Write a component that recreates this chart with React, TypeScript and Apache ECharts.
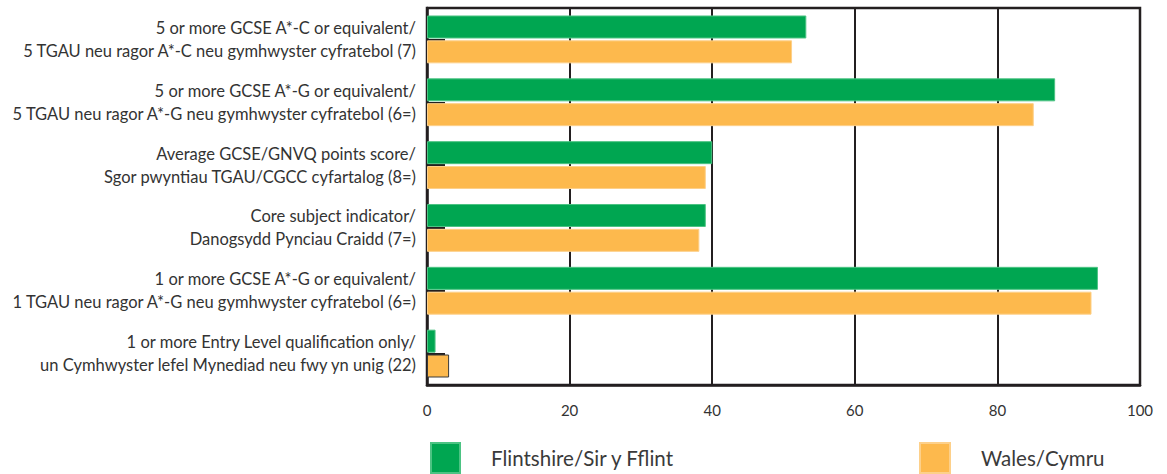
import React, { useEffect, useRef } from "react";
import * as echarts from "echarts";

const categories = [
  "5 or more GCSE A*-C or equivalent/\n5 TGAU neu ragor A*-C neu gymhwyster cyfratebol (7)",
  "5 or more GCSE A*-G or equivalent/\n5 TGAU neu ragor A*-G neu gymhwyster cyfratebol (6=)",
  "Average GCSE/GNVQ points score/\nSgor pwyntiau TGAU/CGCC cyfartalog (8=)",
  "Core subject indicator/\nDanogsydd Pynciau Craidd (7=)",
  "1 or more GCSE A*-G or equivalent/\n1 TGAU neu ragor A*-G neu gymhwyster cyfratebol (6=)",
  "1 or more Entry Level qualification only/\nun Cymhwyster lefel Mynediad neu fwy yn unig (22)",
];
const flintshire = [53.2, 88.1, 40.0, 39.1, 94.1, 1.2];
const wales = [51.2, 85.1, 39.1, 38.2, 93.2, 3.1];
const seriesNames = ["Flintshire/Sir y Fflint", "Wales/Cymru"];
const xTicks = { min: 0, max: 100, interval: 20 };

const GREEN = "#00a651";
const ORANGE = "#fdb94d";
const INK = "#231f20";
const FONT = "Lato, 'Open Sans', sans-serif";

export default function App() {
  const ref = useRef<HTMLDivElement>(null);
  useEffect(() => {
    if (!ref.current) return;
    const chart = echarts.init(ref.current, null, { renderer: "svg" });
    const walesData = wales.map((v, i) =>
      i === wales.length - 1
        ? { value: v, itemStyle: { borderColor: "#3a3a3a", borderWidth: 1 } }
        : v
    );
    const legendText = {
      fontSize: 20.5,
      color: "#3a3a3a",
      padding: [0, 0, 0, 26],
      fontFamily: FONT,
    };
    chart.setOption({
      animation: false,
      backgroundColor: "#ffffff",
      textStyle: { fontFamily: FONT },
      grid: {
        left: 427,
        right: 27,
        top: 8,
        bottom: 89,
        show: true,
        borderColor: INK,
        borderWidth: 2.5,
        backgroundColor: "transparent",
      },
      legend: [
        {
          data: [seriesNames[0]],
          left: 430,
          top: 442,
          padding: 0,
          itemWidth: 29,
          itemHeight: 30,
          icon: "rect",
          textStyle: legendText,
        },
        {
          data: [seriesNames[1]],
          left: 919,
          top: 442,
          padding: 0,
          itemWidth: 30,
          itemHeight: 30,
          icon: "rect",
          textStyle: legendText,
        },
      ],
      xAxis: {
        type: "value",
        min: xTicks.min,
        max: xTicks.max,
        interval: xTicks.interval,
        axisLine: { show: true, lineStyle: { color: INK, width: 2.5 } },
        axisTick: { show: false },
        axisLabel: { color: "#333", fontSize: 15, margin: 17, fontFamily: FONT },
        splitLine: { show: true, lineStyle: { color: INK, width: 2 } },
      },
      yAxis: {
        type: "category",
        inverse: true,
        data: categories,
        axisLine: { show: true, lineStyle: { color: INK, width: 2.5 } },
        axisTick: {
          show: true,
          inside: true,
          length: 18,
          alignWithLabel: true,
          lineStyle: { color: INK, width: 2 },
        },
        axisLabel: {
          color: "#333",
          fontSize: 16.5,
          lineHeight: 23,
          margin: 11,
          align: "right",
          fontFamily: FONT,
        },
      },
      series: [
        {
          name: seriesNames[0],
          type: "bar",
          data: flintshire,
          barWidth: 23,
          barGap: "8%",
          itemStyle: { color: GREEN, borderColor: "#4cc383", borderWidth: 1 },
        },
        {
          name: seriesNames[1],
          type: "bar",
          data: walesData,
          barWidth: 23,
          barGap: "8%",
          itemStyle: { color: ORANGE, borderColor: "#fdd08a", borderWidth: 1 },
        },
      ],
    });
    return () => chart.dispose();
  }, []);
  return (
    <div
      ref={ref}
      style={{ position: "fixed", left: 0, top: 0, width: 1167, height: 474 }}
    />
  );
}
